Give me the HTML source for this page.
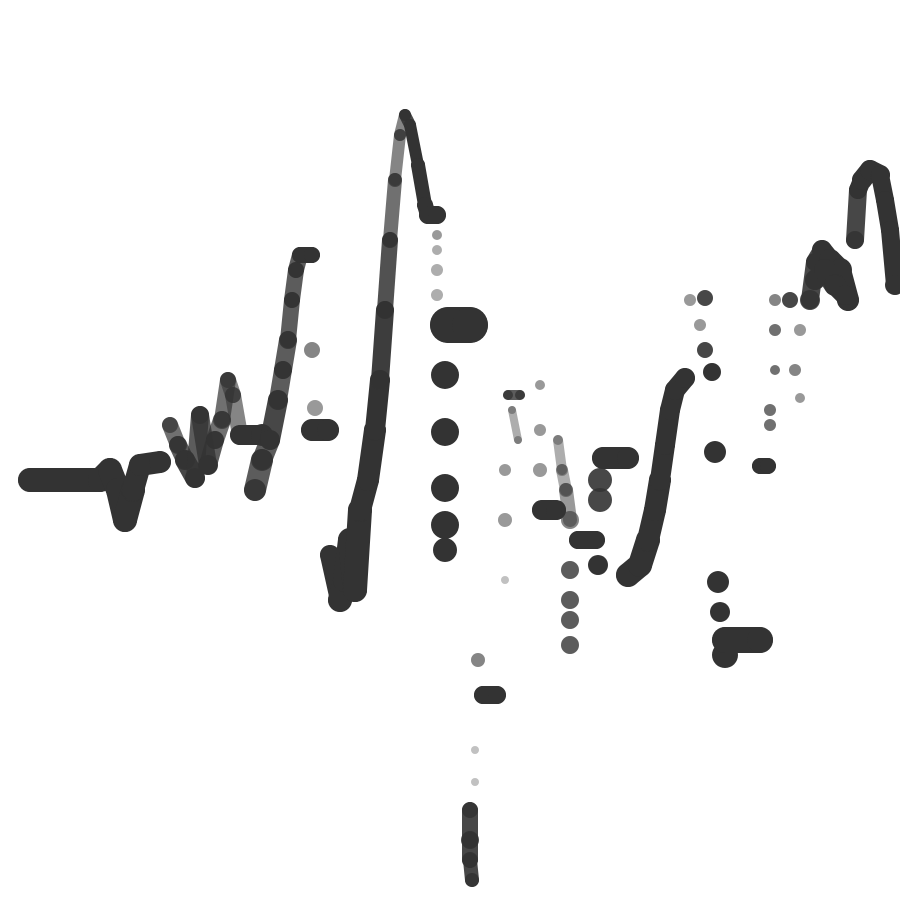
<!DOCTYPE html>
<html><head><meta charset="utf-8">
<style>html,body{margin:0;padding:0;background:#fff;}svg{display:block;}</style>
</head><body>
<svg id="chart" width="900" height="900" viewBox="0 0 900 900" xmlns="http://www.w3.org/2000/svg">
<rect width="900" height="900" fill="#fff"/>
<g id="marks"></g>
</svg>
<script>
const xs = [30,100,110,118,125,133,140,160,
170,178,185,195,200,208,215,222,228,233,240,262,
255,262,270,278,283,288,292,296,300,312,
312,315,312,328,
330,340,345,350,355,360,368,375,380,385,390,395,400,405,410,418,425,428,437,
437,437,437,437,
448,470,445,445,445,445,445,
478,483,497,475,475,470,470,470,472,
508,520,512,518,505,505,505,
540,540,540,542,556,
558,562,566,570,570,570,570,570,578,596,
600,600,598,603,628,
628,640,648,655,660,665,670,675,685,
690,705,700,705,712,
715,718,720,725,725,760,
760,768,770,770,
775,775,775,790,795,800,800,
810,815,822,830,840,848,
815,825,835,845,
855,858,862,870,880,885,890,895];
const ys = [480,480,470,490,520,490,465,462,
425,445,460,478,415,465,440,420,380,395,435,435,
490,460,440,400,370,340,300,270,255,255,
350,408,430,430,
555,600,580,540,590,510,480,430,380,310,240,180,135,115,125,165,205,215,215,
235,250,270,295,
325,325,375,432,488,525,550,
660,695,695,750,782,810,840,860,880,
395,395,410,440,470,520,580,
385,430,470,510,510,
440,470,490,520,570,600,620,645,540,540,
480,500,565,458,458,
575,565,540,510,480,445,410,390,378,
300,298,325,350,372,
452,582,612,655,640,640,
466,466,410,425,
300,330,370,300,370,330,398,
300,262,250,260,270,300,
280,270,285,295,
240,190,180,170,175,200,230,285];
const sizes = [12,12,12,12,12,12,11,11,
8,9,10,10,9,10,9,9,8,8,10,11,
11,11,10,10,9,9,8,8,8,8,
8,8,11,11,
10,12,12,12,12,12,11,11,10,9,8,7,6,6,6,7,8,9,9,
5,5,6,6,
18,18,14,14,14,14,12,
7,9,9,4,4,8,9,8,7,
5,5,4,4,6,7,4,
5,6,7,10,10,
5,6,7,9,9,9,9,9,9,9,
12,12,10,11,11,
12,12,12,11,11,10,10,10,10,
6,8,6,8,9,
11,11,10,13,13,13,
8,8,6,6,
6,6,5,8,6,6,5,
10,9,10,11,12,11,
10,11,11,10,
9,9,10,10,10,9,9,10];
const alphas = [1,1,1,1,1,1,1,1,
0.7,0.8,0.9,1,0.8,1,0.8,0.7,0.7,0.6,1,1,
0.9,0.8,0.9,0.9,0.8,0.8,0.8,0.8,1,1,
0.6,0.5,1,1,
1,1,1,1,1,1,1,1,1,0.95,0.85,0.7,0.6,0.9,1,1,1,1,1,
0.5,0.4,0.4,0.4,
1,1,1,1,1,1,1,
0.6,1,1,0.3,0.3,0.9,0.9,0.9,0.9,
0.8,0.8,0.4,0.4,0.5,0.5,0.3,
0.5,0.5,0.5,1,1,
0.4,0.4,0.5,0.6,0.8,0.8,0.8,0.8,1,1,
0.9,0.9,1,1,1,
1,1,1,1,1,1,1,1,1,
0.5,0.9,0.5,0.9,1,
1,1,1,1,1,1,
1,1,0.7,0.7,
0.6,0.7,0.7,0.9,0.6,0.5,0.5,
0.9,0.9,1,1,1,1,
0.9,0.9,1,1,
0.9,1,1,1,1,1,1,1];
const groups = [1,1,1,1,1,1,1,1,
2,2,2,2,2,2,2,2,2,2,2,2,
3,3,3,3,3,3,3,3,3,3,
4,5,6,6,
7,7,7,7,7,7,7,7,7,7,7,7,7,7,7,7,7,7,7,
8,9,10,11,
12,12,13,14,15,16,17,
18,19,19,20,21,22,22,22,22,
23,23,24,24,25,26,27,
28,29,30,31,31,
32,32,32,32,63,64,65,66,34,34,
35,36,37,38,38,
39,39,39,39,39,39,39,39,39,
40,41,42,43,44,
45,46,47,48,49,49,
50,50,51,52,
53,54,55,56,57,58,59,
60,60,60,60,60,60,
61,61,61,61,
62,62,62,62,62,62,62,62];

function xScale(v){ return v * (900 / 900); }
function yScale(v){ return v * (900 / 900); }

const g = document.getElementById('marks');
const NS = 'http://www.w3.org/2000/svg';
for (let i = 0; i < xs.length; i++) {
  if (i > 0 && groups[i] === groups[i-1]) {
    const l = document.createElementNS(NS, 'line');
    l.setAttribute('x1', xScale(xs[i-1]));
    l.setAttribute('y1', yScale(ys[i-1]));
    l.setAttribute('x2', xScale(xs[i]));
    l.setAttribute('y2', yScale(ys[i]));
    l.setAttribute('stroke', '#333');
    l.setAttribute('stroke-width', 2 * Math.min(sizes[i], sizes[i-1]));
    l.setAttribute('stroke-linecap', 'round');
    l.setAttribute('stroke-opacity', Math.min(alphas[i], alphas[i-1]));
    
    
    g.appendChild(l);
  }
  const c = document.createElementNS(NS, 'circle');
  c.setAttribute('cx', xScale(xs[i]));
  c.setAttribute('cy', yScale(ys[i]));
  c.setAttribute('r', sizes[i]);
  c.setAttribute('fill', '#333');
  c.setAttribute('fill-opacity', alphas[i]);
  
  
  g.appendChild(c);
}
</script>
</body></html>
